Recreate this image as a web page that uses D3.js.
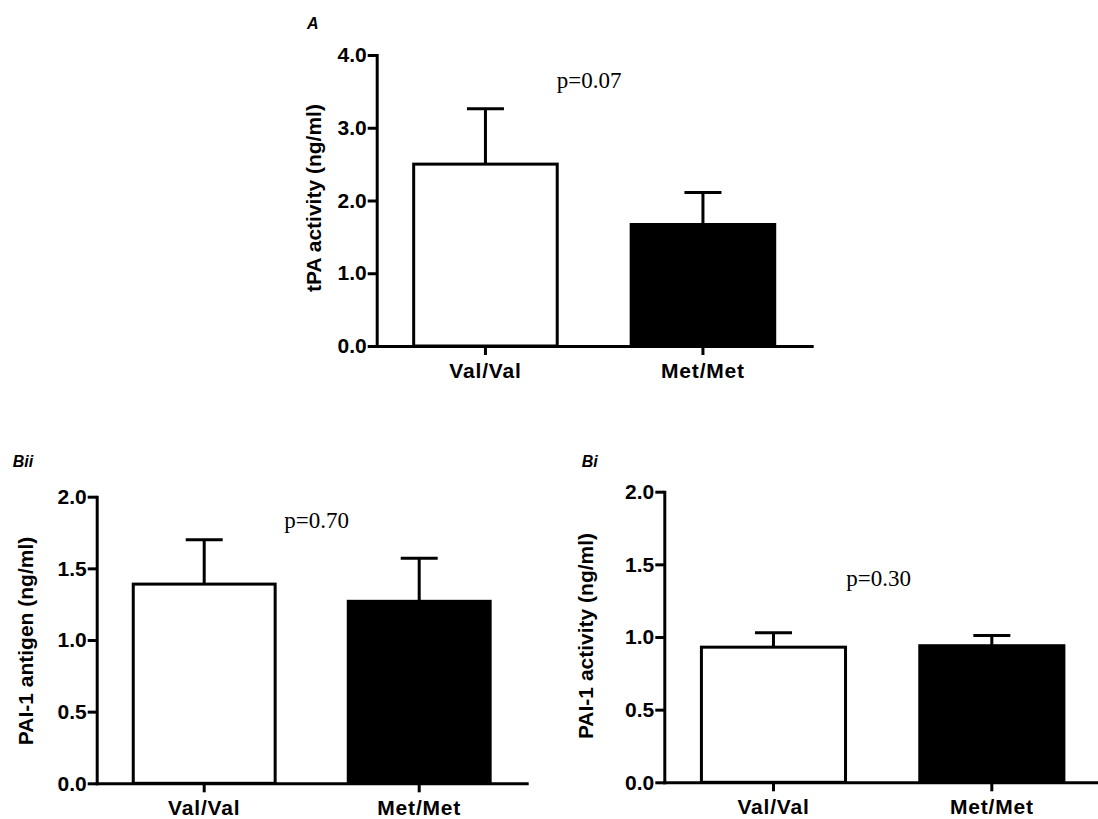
<!DOCTYPE html>
<html>
<head>
<meta charset="utf-8">
<script src="https://cdn.jsdelivr.net/npm/d3@7"></script>
<style>
  body { margin: 0; background: #fff; }
  svg { display: block; }
  .axis text { font-family: "Liberation Sans", Arial, sans-serif; font-weight: bold; font-size: 21px; fill: #000; }
  .axis path, .axis line { stroke: #000; stroke-width: 3; }
  .ytitle { font-family: "Liberation Sans", Arial, sans-serif; font-weight: bold; font-size: 21px; }
  .pval { font-family: "Liberation Serif", "Times New Roman", serif; font-size: 23px; }
  .panel { font-family: "Liberation Sans", Arial, sans-serif; font-weight: bold; font-style: italic; font-size: 16px; }
</style>
</head>
<body>
<svg width="1098" height="819"></svg>
<script>
// data
const groups = ["Val/Val", "Met/Met"];

const tpaMean = [2.50, 1.67];
const tpaErr = [0.76, 0.44];
const tpaTicks = [0, 1, 2, 3, 4];

const antigenMean = [1.39, 1.27];
const antigenErr = [0.31, 0.30];

const activityMean = [0.93, 0.94];
const activityErr = [0.10, 0.07];

const paiTicks = [0, 0.5, 1, 1.5, 2];

const svg = d3.select("svg");

// one panel = one small bar chart
function drawPanel(opt) {
    const g = svg.append("g");

    const x = d3.scaleBand()
        .domain(groups)
        .range([opt.x0, opt.x1])
        .paddingInner(0.34)
        .paddingOuter(0.17);
    const y = d3.scaleLinear()
        .domain([0, d3.max(opt.ticks)])
        .range([opt.y0, opt.y1]);

    const data = groups.map((k, i) => ({ name: k, mean: opt.mean[i], err: opt.err[i] }));

    // error bars (upper only)
    const capW = 37;
    g.selectAll(".err").data(data).enter().append("path")
        .attr("class", "err")
        .attr("fill", "none")
        .attr("stroke", "#000")
        .attr("stroke-width", 3)
        .attr("d", d => {
            const cx = x(d.name) + x.bandwidth() / 2;
            const top = y(d.mean + d.err);
            return `M${cx},${y(d.mean)}V${top}M${cx - capW / 2},${top}H${cx + capW / 2}`;
        });

    g.selectAll(".bar").data(data).enter().append("rect")
        .attr("class", "bar")
        .attr("x", d => x(d.name))
        .attr("y", d => y(d.mean))
        .attr("width", x.bandwidth())
        .attr("height", d => y(0) - y(d.mean))
        .attr("fill", (d, i) => i === 0 ? "#fff" : "#000")
        .attr("stroke", "#000")
        .attr("stroke-width", 3);

    const xAxis = g.append("g")
        .attr("class", "axis")
        .attr("transform", `translate(0,${opt.y0})`)
        .call(d3.axisBottom(x).tickSize(9).tickSizeOuter(0).tickPadding(8));
    xAxis.selectAll("text").attr("letter-spacing", "0.8px");

    g.append("g")
        .attr("class", "axis")
        .attr("transform", `translate(${opt.x0},0)`)
        .call(d3.axisLeft(y).tickValues(opt.ticks).tickFormat(d3.format(".1f")).tickSize(9).tickSizeOuter(0).tickPadding(1));

    g.selectAll(".axis path").attr("stroke-linecap", "square");

    g.append("text")
        .attr("class", "ytitle")
        .attr("transform", `translate(${opt.titleX},${opt.titleY}) rotate(-90)`)
        .attr("text-anchor", "middle")
        .text(opt.title);

    g.append("text")
        .attr("class", "pval")
        .attr("x", (opt.x0 + opt.x1) / 2 + opt.pdx)
        .attr("y", y(opt.pY))
        .attr("text-anchor", "middle")
        .text(opt.p);

    g.append("text")
        .attr("class", "panel")
        .attr("x", opt.labelX)
        .attr("y", opt.labelY)
        .text(opt.label);
}

drawPanel({
    label: "A", labelX: 307, labelY: 29,
    x0: 376.7, x1: 811.7, y0: 346, y1: 55,
    mean: tpaMean, err: tpaErr, ticks: tpaTicks,
    title: "tPA activity (ng/ml)", titleX: 320.5, titleY: 198,
    p: "p=0.07", pY: 3.54, pdx: -5
});

drawPanel({
    label: "Bii", labelX: 12.7, labelY: 467,
    x0: 96.7, x1: 526.7, y0: 783.3, y1: 496.7,
    mean: antigenMean, err: antigenErr, ticks: paiTicks,
    title: "PAI-1 antigen (ng/ml)", titleX: 32.5, titleY: 641,
    p: "p=0.70", pY: 1.78, pdx: 5
});

drawPanel({
    label: "Bi", labelX: 581.7, labelY: 467,
    x0: 664.3, x1: 1101, y0: 782.3, y1: 491.7,
    mean: activityMean, err: activityErr, ticks: paiTicks,
    title: "PAI-1 activity (ng/ml)", titleX: 592.5, titleY: 636,
    p: "p=0.30", pY: 1.35, pdx: -4
});
</script>
</body>
</html>
